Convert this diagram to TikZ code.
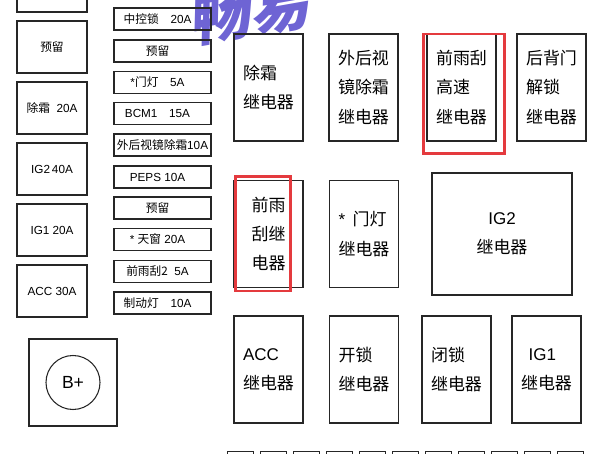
\documentclass[tikz,border=0pt]{standalone}
\usepackage{fontspec}
\setmainfont{Liberation Sans}
\newfontfamily\cjk{Noto Sans CJK SC}
\usepackage{tikz}
\usepackage{xcolor}
\definecolor{markred}{RGB}{228,58,62}
\definecolor{wmpurple}{RGB}{110,100,212}
\newcommand{\zh}[1]{{\cjk #1}}

\begin{document}
\begin{tikzpicture}[x=0.03cm,y=-0.03cm,line width=0.9pt,draw=black!85,
  fuse node/.style={draw,minimum width=2.1cm,minimum height=1.56cm,inner sep=0pt,
    font=\fontsize{10}{12}\selectfont},
  mini frame/.style={draw,minimum width=2.91cm,minimum height=0.66cm,inner sep=0pt,
    font=\fontsize{10}{12}\selectfont},
  mini node/.style={mini frame,execute at end node=\kern0.3cm},
  relay node/.style={draw,minimum width=2.07cm,minimum height=3.21cm,inner sep=0pt,
    align=left,font=\cjk\fontsize{14.5}{25}\selectfont},
  mark box/.style={draw=markred,line width=2.4pt,inner sep=0pt}]

  \clip (0,0) rectangle (603,454);

  % watermark
  \node[text=wmpurple,font=\cjk\bfseries\fontsize{52}{52}\selectfont,rotate=10,xslant=0.2]
    (wm) at (253,9) {畅易};

  % left column
  \node[fuse node] (l0) at (52,-14) {};
  \node[fuse node] (l1) at (52,47) {\zh{预留}};
  \node[fuse node] (l2) at (52,108) {\zh{除霜}\ \ 20A};
  \node[fuse node] (l3) at (52,169) {IG2\,40A};
  \node[fuse node] (l4) at (52,230) {IG1 20A};
  \node[fuse node] (l5) at (52,291) {ACC 30A};

  % small fuses
  \node[mini node] (f1) at (162.5,19) {\zh{中控锁}\quad 20A};
  \node[mini node] (f2) at (162.5,51) {\zh{预留}};
  \node[mini node] (f3) at (162.5,82.5) {*\zh{门灯}\quad 5A};
  \node[mini node] (f4) at (162.5,113.5) {BCM1\quad 15A};
  \node[mini frame] (f5) at (162.5,145) {\zh{外后视镜除霜}10A};
  \node[mini node] (f6) at (162.5,177) {PEPS 10A};
  \node[mini node] (f7) at (162.5,208) {\zh{预留}};
  \node[mini node] (f8) at (162.5,239.5) {*\ \zh{天窗}\ 20A};
  \node[mini node] (f9) at (162.5,271.5) {\zh{前雨刮2}\ \ 5A};
  \node[mini node] (f10) at (162.5,303) {\zh{制动灯}\quad 10A};

  % B+ terminal
  \node[draw,minimum width=2.64cm,minimum height=2.61cm] (bbox) at (73,382.5) {};
  \node[draw,circle,minimum size=1.62cm,inner sep=0pt,font=\fontsize{15}{15}\selectfont]
    (bplus) at (bbox.center) {B+};

  % relays
  \node[relay node] (r1) at (268.5,87.5) {除霜\\继电器};
  \node[relay node] (r2) at (363.5,87.5) {外后视\\镜除霜\\继电器};
  \node[relay node] (r3) at (461.5,87.5) {前雨刮\\高速\\继电器};
  \node[relay node] (r4) at (551.5,87.5) {后背门\\解锁\\继电器};

  \node[relay node] (r5) at (268.5,234) {前雨\\刮继\\电器};
  \node[relay node] (r6) at (364,234) {{\rmfamily *}\ \ 门灯\\继电器};
  \node[relay node,minimum width=4.2cm,minimum height=3.66cm,align=center] (r7)
    at (502,234) {{\rmfamily IG2}\\继电器};

  \node[relay node] (r8) at (268.5,369.5) {{\rmfamily ACC}\\继电器};
  \node[relay node] (r9) at (364,369.5) {开锁\\继电器};
  \node[relay node] (r10) at (456.5,369.5) {闭锁\\继电器};
  \node[relay node] (r11) at (546.5,369.5) {\ \ {\rmfamily IG1}\\继电器};

  % marked relays
  \node[mark box,minimum width=2.43cm,minimum height=3.58cm] (m1) at (464,93.75) {};
  \node[mark box,minimum width=1.65cm,minimum height=3.44cm] (m2) at (263,233.75) {};

  % bottom fuse row
  \foreach \i in {0,...,10}
    \node[draw,minimum width=0.78cm,minimum height=0.9cm,anchor=north west,inner sep=0pt]
      (s\i) at (227+33*\i,451) {};
\end{tikzpicture}
\end{document}
